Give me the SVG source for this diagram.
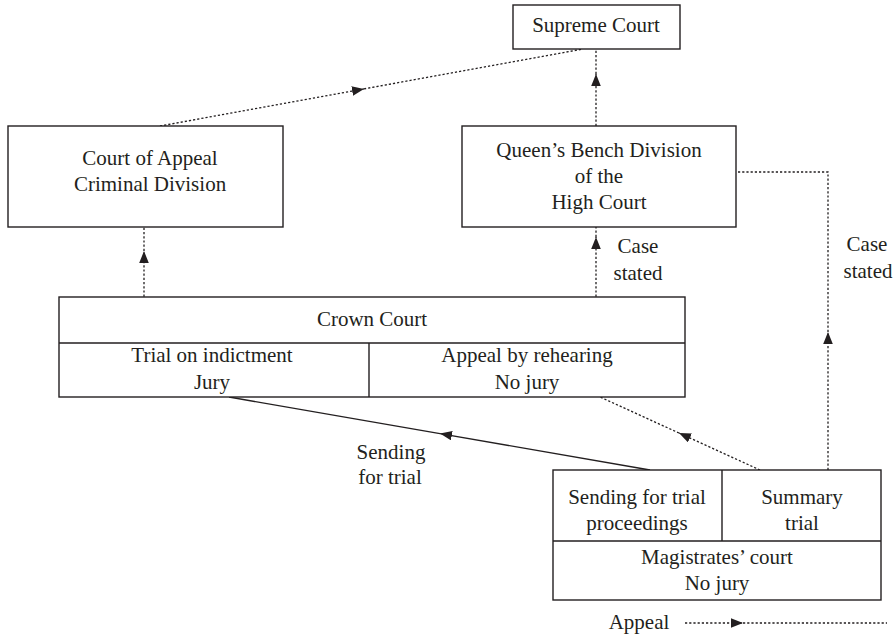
<svg xmlns="http://www.w3.org/2000/svg" width="894" height="637" viewBox="0 0 894 637">
<style>
.box{fill:#fff;stroke:#231f20;stroke-width:1.4}
.div{fill:none;stroke:#231f20;stroke-width:1.4}
.t{font-family:"Liberation Serif","Times New Roman",serif;font-size:21px;fill:#231f20;text-anchor:middle}
.dot{fill:none;stroke:#231f20;stroke-width:1.3;stroke-dasharray:2.2 2}
.sol{fill:none;stroke:#231f20;stroke-width:1.4}
</style>
<defs>
<marker id="ah" viewBox="0 0 10 8" refX="10" refY="4" markerWidth="12" markerHeight="10" markerUnits="userSpaceOnUse" orient="auto">
<path d="M0,0 L10,4 L0,8 z" fill="#231f20"/>
</marker>
</defs>
<rect width="894" height="637" fill="#fff"/>
<g id="connectors">
<path class="dot" d="M160 126 L364 88.9" marker-end="url(#ah)"/>
<path class="dot" d="M364 88.9 L583 49"/>
<path class="dot" d="M596 126 L596 74" marker-end="url(#ah)"/>
<path class="dot" d="M596 74 L596 49"/>
<path class="dot" d="M144 343 L144 251" marker-end="url(#ah)"/>
<path class="dot" d="M144 251 L144 227"/>
<path class="dot" d="M596 343 L596 237" marker-end="url(#ah)"/>
<path class="dot" d="M596 237 L596 227"/>
<path class="dot" d="M828 470 L828 332" marker-end="url(#ah)"/>
<path class="dot" d="M828 332 L828 172 L736 172"/>
<path class="sol" d="M650 470 L440 433.6" marker-end="url(#ah)"/>
<path class="sol" d="M440 433.6 L229 397"/>
<path class="dot" d="M760 470 L679 433" marker-end="url(#ah)"/>
<path class="dot" d="M679 433 L600 397"/>
<path class="dot" d="M685 623 L743 623" marker-end="url(#ah)"/>
<path class="dot" d="M743 623 L887 623"/>
</g>
<g id="supreme-court">
<rect class="box" x="513" y="5" width="167" height="44"/>
<text class="t" x="596" y="32">Supreme Court</text>
</g>
<g id="court-of-appeal">
<rect class="box" x="8" y="126" width="275" height="101"/>
<text class="t" x="150" y="165">Court of Appeal</text>
<text class="t" x="150" y="191">Criminal Division</text>
</g>
<g id="qbd">
<rect class="box" x="462" y="126" width="274" height="101"/>
<text class="t" x="599" y="157">Queen’s Bench Division</text>
<text class="t" x="599" y="183">of the</text>
<text class="t" x="599" y="209">High Court</text>
</g>
<g id="crown-court">
<rect class="box" x="59" y="297" width="626" height="100"/>
<path class="div" d="M59 343 L685 343 M369 343 L369 397"/>
<text class="t" x="372" y="326">Crown Court</text>
<text class="t" x="212" y="362">Trial on indictment</text>
<text class="t" x="212" y="389">Jury</text>
<text class="t" x="527" y="362">Appeal by rehearing</text>
<text class="t" x="527" y="389">No jury</text>
</g>
<g id="magistrates-court">
<rect class="box" x="553" y="470" width="328" height="130"/>
<path class="div" d="M553 541 L881 541 M722 470 L722 541"/>
<text class="t" x="637" y="504">Sending for trial</text>
<text class="t" x="637" y="530">proceedings</text>
<text class="t" x="802" y="504">Summary</text>
<text class="t" x="802" y="530">trial</text>
<text class="t" x="717" y="564">Magistrates’ court</text>
<text class="t" x="717" y="590">No jury</text>
</g>
<g id="labels">
<text class="t" x="638" y="253">Case</text>
<text class="t" x="638" y="280">stated</text>
<text class="t" x="867" y="251">Case</text>
<text class="t" x="868" y="278">stated</text>
<text class="t" x="391" y="459">Sending</text>
<text class="t" x="390" y="484">for trial</text>
<text class="t" x="639" y="629">Appeal</text>
</g>
</svg>
